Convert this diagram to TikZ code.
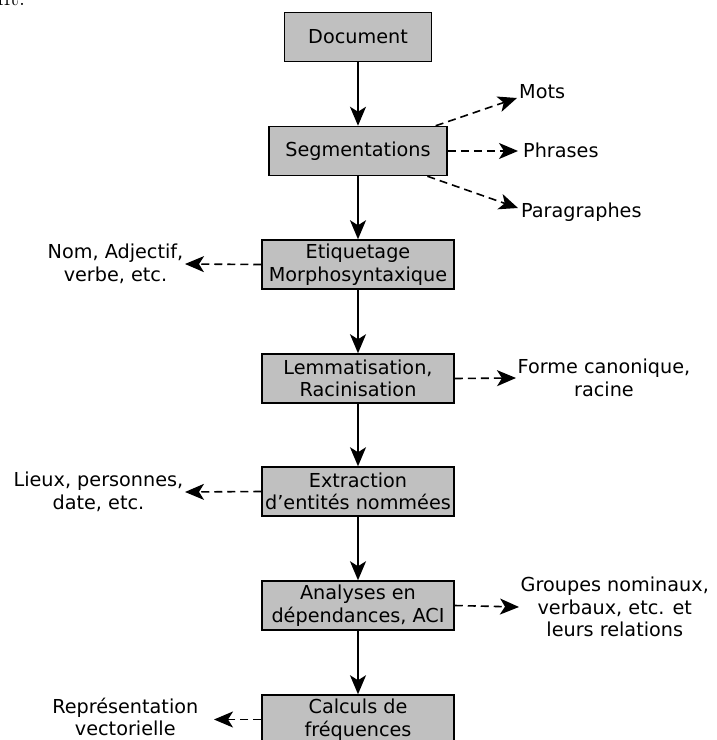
\documentclass[tikz,border=0pt]{standalone}
\usepackage{fontspec}
\setmainfont{DejaVu Sans}
\usetikzlibrary{arrows.meta}
\definecolor{boxgray}{HTML}{C0C0C0}
\begin{document}
\begin{tikzpicture}[x=1bp,y=-1bp,
  box/.style={draw=black, line width=1.5bp, fill=boxgray, minimum height=49bp,
    inner sep=0pt, align=center, font=\fontsize{19.3}{22.5}\selectfont},
  lbl/.style={align=center, inner sep=1.5bp, font=\fontsize{19.3}{22.5}\selectfont},
  tipshape/.style={-{Stealth[length=19bp,width=16bp,inset=5bp]}},
  flow/.style={tipshape, line width=1.8bp},
  side/.style={tipshape, line width=1.6bp, dash pattern=on 8bp off 5bp}]
\useasboundingbox (0,0) rectangle (717,740);
\clip (0,0) rectangle (717,740);
\node[anchor=base west, inner sep=0pt, font=\fontfamily{lmr}\selectfont\fontsize{26}{30}\selectfont] (frag) at (-3,6) {nt.};
% main boxes
\node[box, minimum width=147bp] (doc) at (358,37) {Document};
\node[box, minimum width=178bp] (seg) at (358,151) {Segmentations};
\node[box, minimum width=192bp] (eti) at (358,264.5) {Etiquetage\\Morphosyntaxique};
\node[box, minimum width=192bp] (lem) at (358,378.5) {Lemmatisation,\\Racinisation};
\node[box, minimum width=192bp] (ext) at (358,491.5) {Extraction\\d'entités nommées};
\node[box, minimum width=192bp] (ana) at (358,605.5) {Analyses en\\dépendances, ACI};
\node[box, minimum width=192bp] (cal) at (358,719.5) {Calculs de\\fréquences};
% flow
\draw[flow] (doc) -- (seg);
\draw[flow] (seg) -- (eti);
\draw[flow] (eti) -- (lem);
\draw[flow] (lem) -- (ext);
\draw[flow] (ext) -- (ana);
\draw[flow] (ana) -- (cal);
% side labels
\node[lbl, anchor=base west, inner sep=0pt] (mots) at (519,98) {Mots};
\node[lbl, anchor=base west, inner sep=0pt] (phr) at (523,157) {Phrases};
\node[lbl, anchor=base west, inner sep=0pt] (par) at (521,217) {Paragraphes};
\coordinate (motsend) at (517,98);
\coordinate (phrend) at (518,151);
\coordinate (parend) at (518,208);
\draw[side] (seg.18) -- (motsend);
\draw[side] (seg.east) -- (phrend);
\draw[side] (seg.-20) -- (parend);
\node[lbl, anchor=east] (nom) at (185,264) {Nom, Adjectif,\\verbe, etc.};
\draw[side] (eti.west) -- (nom.east);
\node[lbl, anchor=west] (forme) at (516,378) {Forme canonique,\\racine};
\draw[side] (lem.east) -- (forme.west);
\node[lbl, anchor=east] (lieux) at (185,492) {Lieux, personnes,\\date, etc.};
\draw[side] (ext.west) -- (lieux.east);
\node[lbl, anchor=west] (grp) at (519,607) {Groupes nominaux,\\verbaux, etc. et\\leurs relations};
\draw[side] (ana.east) -- (grp.west);
\node[lbl, anchor=east] (rep) at (200,717) {Représentation\\vectorielle};
\coordinate (repend) at (214,719.5);
\draw[side] (cal.west) -- (repend);
\end{tikzpicture}
\end{document}
